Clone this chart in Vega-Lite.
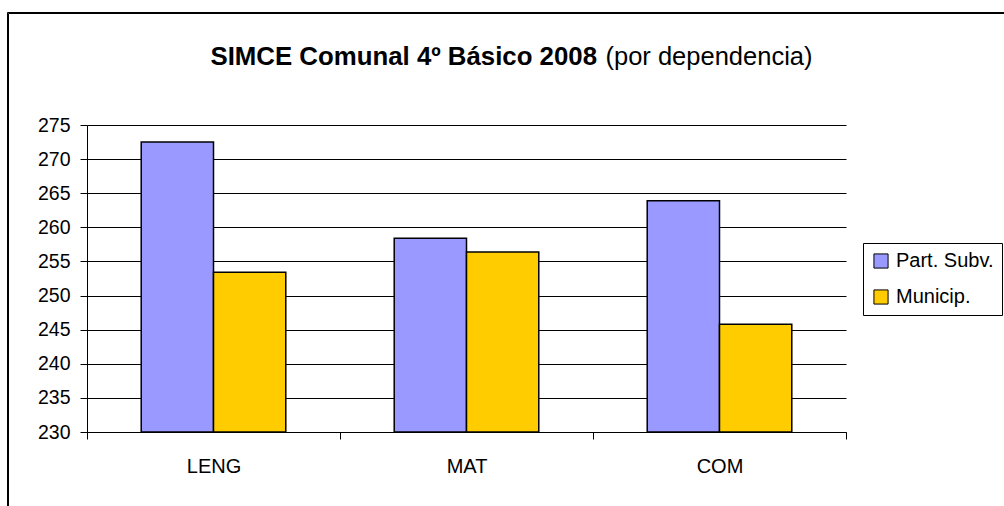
{
  "$schema": "https://vega.github.io/schema/vega-lite/v6.json",
  "width": 759,
  "height": 307,
  "autosize": {"type": "none"},
  "padding": {"left": 87, "top": 125, "right": 158, "bottom": 74},
  "background": "white",
  "config": {
    "font": "Liberation Sans",
    "view": {"stroke": null}
  },
  "data": {
    "values": [
      {"materia": "LENG", "dependencia": "Part. Subv.", "puntaje": 272.5},
      {"materia": "LENG", "dependencia": "Municip.", "puntaje": 253.4},
      {"materia": "MAT", "dependencia": "Part. Subv.", "puntaje": 258.4},
      {"materia": "MAT", "dependencia": "Municip.", "puntaje": 256.4},
      {"materia": "COM", "dependencia": "Part. Subv.", "puntaje": 263.9},
      {"materia": "COM", "dependencia": "Municip.", "puntaje": 245.8}
    ]
  },
  "encoding": {
    "x": {
      "field": "materia",
      "type": "nominal",
      "sort": ["LENG", "MAT", "COM"],
      "scale": {"paddingInner": 0, "paddingOuter": 0},
      "axis": {
        "labelAngle": 0,
        "tickBand": "extent",
        "tickSize": 7,
        "tickColor": "black",
        "domainColor": "black",
        "labelFontSize": 20,
        "labelPadding": 33,
        "labelBaseline": "alphabetic",
        "labelColor": "black",
        "grid": false,
        "title": "SIMCE Comunal 4º Básico 2008",
        "titleX": 123,
        "titleY": -368,
        "titleAlign": "left",
        "titleBaseline": "alphabetic",
        "titleFontSize": 25.8,
        "titleFontWeight": "bold",
        "titleColor": "black"
      }
    },
    "y": {
      "field": "puntaje",
      "type": "quantitative",
      "scale": {"domain": [230, 275], "zero": false, "nice": false},
      "axis": {
        "values": [230, 235, 240, 245, 250, 255, 260, 265, 270, 275],
        "labelOverlap": false,
        "grid": true,
        "gridColor": "black",
        "gridWidth": 1,
        "domainColor": "black",
        "tickColor": "black",
        "tickSize": 7,
        "labelFontSize": 19.5,
        "labelPadding": 10,
        "labelColor": "black",
        "title": "(por dependencia)",
        "titleAngle": 0,
        "titleX": 518,
        "titleY": -61,
        "titleAlign": "left",
        "titleBaseline": "alphabetic",
        "titleFontSize": 25.5,
        "titleFontWeight": "normal",
        "titleColor": "black"
      }
    }
  },
  "layer": [
    {
      "mark": {"type": "bar", "stroke": "black", "strokeWidth": 1.5},
      "encoding": {
        "xOffset": {
          "field": "dependencia",
          "type": "nominal",
          "sort": ["Part. Subv.", "Municip."],
          "scale": {"paddingInner": 0, "paddingOuter": 0.75}
        },
        "y2": {"datum": 230},
        "color": {
          "field": "dependencia",
          "type": "nominal",
          "scale": {"domain": ["Part. Subv.", "Municip."], "range": ["#9999FF", "#FFCC00"]},
          "legend": {
            "orient": "none",
            "legendX": 776,
            "legendY": 118,
            "title": null,
            "strokeColor": "black",
            "fillColor": "white",
            "padding": 8,
            "labelFontSize": 20,
            "labelColor": "black",
            "labelOffset": 5,
            "symbolType": "square",
            "symbolSize": 200,
            "symbolStrokeColor": "black",
            "symbolStrokeWidth": 1,
            "rowPadding": 16
          }
        }
      }
    },
    {
      "mark": {"type": "point", "opacity": 0},
      "encoding": {
        "shape": {
          "datum": "marco",
          "legend": {
            "orient": "none",
            "legendX": -80,
            "legendY": -113,
            "title": null,
            "strokeColor": "black",
            "padding": 560,
            "symbolOpacity": 0,
            "labelOpacity": 0,
            "labelFontSize": 1,
            "labelExpr": "''"
          }
        },
        "strokeDash": {
          "datum": "borde",
          "legend": {
            "orient": "none",
            "legendX": -79,
            "legendY": -112,
            "title": null,
            "strokeColor": "black",
            "padding": 560,
            "symbolOpacity": 0,
            "labelOpacity": 0,
            "labelFontSize": 1,
            "labelExpr": "''"
          }
        }
      }
    }
  ]
}
